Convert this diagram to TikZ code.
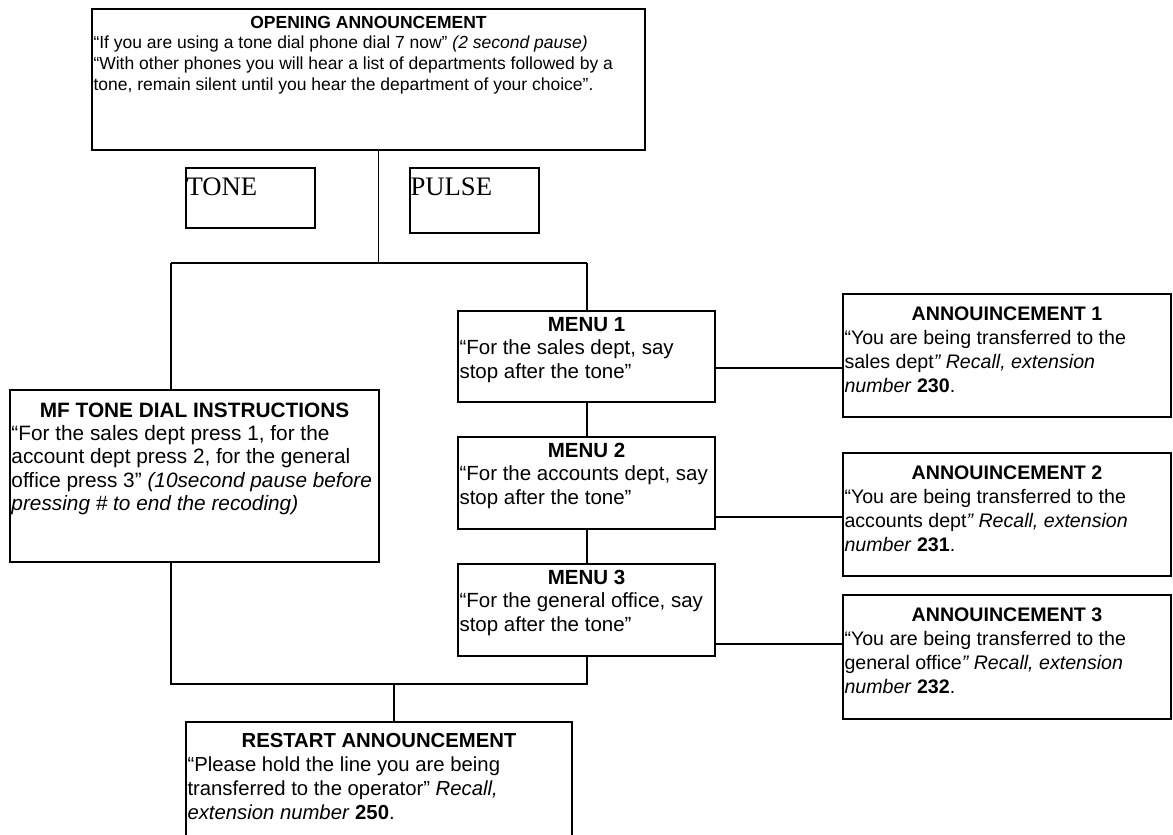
\documentclass[tikz,border=0pt]{standalone}
\usepackage{fontspec}
\setmainfont{Liberation Sans}
\newfontfamily\tnr{Liberation Serif}
\newcommand{\bodyfont}[2]{\fontsize{#1}{#2}\selectfont\lineskiplimit=-100pt}
\begin{document}
\begin{tikzpicture}[x=1pt,y=-1pt,
  bx/.style={draw=black, line width=1.3pt, inner xsep=1.5pt, inner ysep=0pt, outer sep=0pt, anchor=north west},
  ln/.style={draw=black, line width=1.3pt}]
\useasboundingbox (0,0) rectangle (1173,835);

% Opening announcement
\node[bx] (open) at (92,9) {\parbox[t][141pt][t]{550pt}{\bodyfont{17.5}{20.5}
 \centering\rule{0pt}{19.5pt}\textbf{OPENING ANNOUNCEMENT}\par
 \raggedright
 \mbox{“If you are using a tone dial phone dial 7 now” \textit{(2 second pause)}}\\
 \mbox{“With other phones you will hear a list of departments followed by a}\\
 \mbox{tone, remain silent until you hear the department of your choice”.}\par}};

% Tone / Pulse
\node[bx, inner xsep=0.5pt] (tone) at (186,168) {\parbox[t][60pt][t]{128pt}{\tnr\fontsize{26.7}{30}\selectfont\rule{0pt}{27pt}TONE}};
\node[bx, inner xsep=0.5pt] (pulse) at (410,168) {\parbox[t][65pt][t]{128pt}{\tnr\fontsize{26.7}{30}\selectfont\rule{0pt}{27pt}PULSE}};

% MF tone dial instructions
\node[bx] (mf) at (10,390) {\parbox[t][172pt][t]{366pt}{\bodyfont{20.8}{23.4}
 \centering\rule{0pt}{27pt}\textbf{MF TONE DIAL INSTRUCTIONS}\par
 \raggedright
 \mbox{“For the sales dept press 1, for the}\\
 \mbox{account dept press 2, for the general}\\
 \mbox{office press 3” \textit{(10second pause before}}\\
 \mbox{\textit{pressing \# to end the recoding)}}\par}};

% Menus
\node[bx] (m1) at (458,311) {\parbox[t][91pt][t]{254pt}{\bodyfont{20.5}{23.5}
 \centering\rule{0pt}{20pt}\textbf{MENU 1}\par
 \raggedright
 \mbox{“For the sales dept, say}\\
 \mbox{stop after the tone”}\par}};
\node[bx] (m2) at (458,437) {\parbox[t][92pt][t]{254pt}{\bodyfont{20.5}{23.5}
 \centering\rule{0pt}{20pt}\textbf{MENU 2}\par
 \raggedright
 \mbox{“For the accounts dept, say}\\
 \mbox{stop after the tone”}\par}};
\node[bx] (m3) at (458,564) {\parbox[t][92pt][t]{254pt}{\bodyfont{20.5}{23.5}
 \centering\rule{0pt}{20pt}\textbf{MENU 3}\par
 \raggedright
 \mbox{“For the general office, say}\\
 \mbox{stop after the tone”}\par}};

% Announcements
\node[bx] (a1) at (843,294) {\parbox[t][123pt][t]{325pt}{\bodyfont{19.6}{24}
 \centering\rule{0pt}{26pt}\textbf{ANNOUINCEMENT 1}\par
 \raggedright
 \mbox{“You are being transferred to the}\\
 \mbox{sales dept\textit{” Recall, extension}}\\
 \mbox{\textit{number} \textbf{230}.}\par}};
\node[bx] (a2) at (843,453) {\parbox[t][123pt][t]{325pt}{\bodyfont{19.6}{24}
 \centering\rule{0pt}{26pt}\textbf{ANNOUINCEMENT 2}\par
 \raggedright
 \mbox{“You are being transferred to the}\\
 \mbox{accounts dept\textit{” Recall, extension}}\\
 \mbox{\textit{number} \textbf{231}.}\par}};
\node[bx] (a3) at (843,595) {\parbox[t][124pt][t]{325pt}{\bodyfont{19.6}{24}
 \centering\rule{0pt}{26pt}\textbf{ANNOUINCEMENT 3}\par
 \raggedright
 \mbox{“You are being transferred to the}\\
 \mbox{general office\textit{” Recall, extension}}\\
 \mbox{\textit{number} \textbf{232}.}\par}};

% Restart
\node[bx] (rs) at (186,722) {\parbox[t][125pt][t]{383pt}{\bodyfont{20.3}{24}
 \centering\rule{0pt}{25pt}\textbf{RESTART ANNOUNCEMENT}\par
 \raggedright
 \mbox{“Please hold the line you are being}\\
 \mbox{transferred to the operator” \textit{Recall,}}\\
 \mbox{\textit{extension number} \textbf{250}.}\par}};

% Junction points
\coordinate (jt) at (378.5,263);
\coordinate (jl) at (171,263);
\coordinate (jr) at (587,263);
\coordinate (jbl) at (171,684);
\coordinate (jbr) at (587,684);
\coordinate (jbm) at (394,684);
\coordinate (r1) at (780,368);
\coordinate (r2) at (780,517);
\coordinate (r3) at (780,644);

% Connectors
\draw[ln] (open.south -| jt) -- (jt);
\draw[ln] (jl) -- (jr);
\draw[ln] (jl) -- (mf.north -| jl);
\draw[ln] (jr) -- (m1.north -| jr);
\draw[ln] (m1.south -| jr) -- (m2.north -| jr);
\draw[ln] (m2.south -| jr) -- (m3.north -| jr);
\draw[ln] (m3.south -| jr) -- (jbr) -- (jbl) -- (mf.south -| jbl);
\draw[ln] (jbm) -- (rs.north -| jbm);
\draw[ln] (m1.east |- r1) -- (a1.west |- r1);
\draw[ln] (m2.east |- r2) -- (a2.west |- r2);
\draw[ln] (m3.east |- r3) -- (a3.west |- r3);
\end{tikzpicture}
\end{document}
